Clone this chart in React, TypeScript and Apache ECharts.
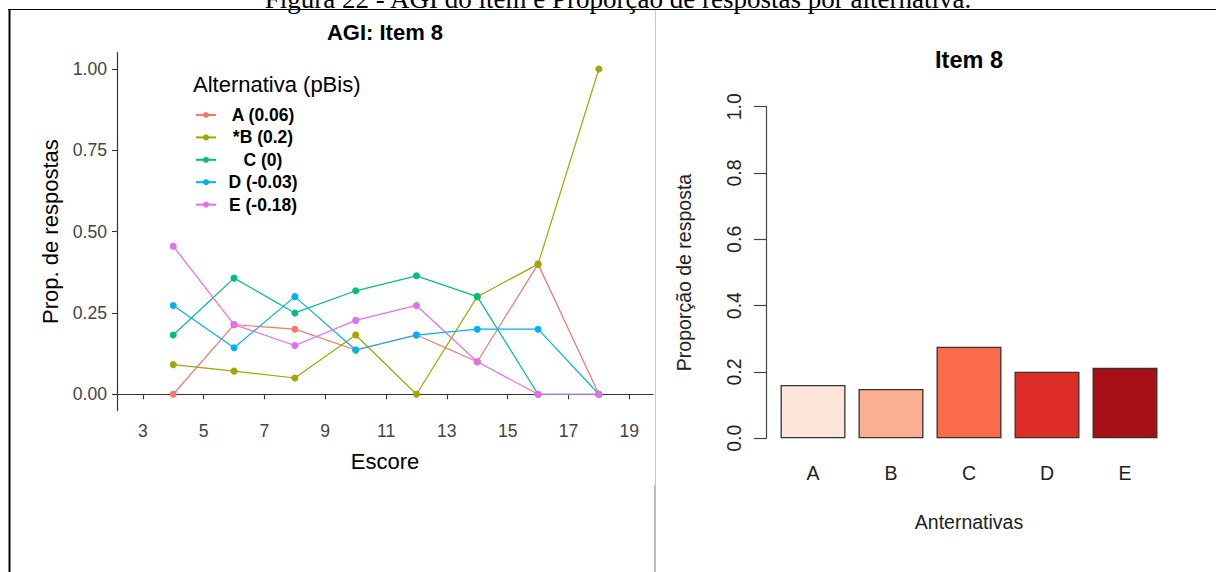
import React, { useEffect, useRef } from "react";
import * as echarts from "echarts";

// ---- Data ----
const scores = [4, 6, 8, 10, 12, 14, 16, 18];
const altNames = ["A (0.06)", "*B (0.2)", "C (0)", "D (-0.03)", "E (-0.18)"];
const altColors = ["#F8766D", "#A3A500", "#00BF7D", "#00B0F6", "#E76BF3"];
const propA = [0, 0.214, 0.2, 0.136, 0.182, 0.1, 0.4, 0];
const propB = [0.091, 0.071, 0.05, 0.182, 0, 0.3, 0.4, 1];
const propC = [0.182, 0.357, 0.25, 0.318, 0.364, 0.3, 0, 0];
const propD = [0.273, 0.143, 0.3, 0.136, 0.182, 0.2, 0.2, 0];
const propE = [0.455, 0.214, 0.15, 0.227, 0.273, 0.1, 0, 0];
const xTicks = [3, 5, 7, 9, 11, 13, 15, 17, 19];
const yTicks = [0, 0.25, 0.5, 0.75, 1];

const barCategories = ["A", "B", "C", "D", "E"];
const barValues = [0.161, 0.149, 0.276, 0.201, 0.213];
const barColors = ["#FEE5D9", "#FCAE91", "#FB6A4A", "#DE2D26", "#A50F15"];

const SANS = "'Liberation Sans', Arial, sans-serif";

export default function App() {
  const ref = useRef<HTMLDivElement>(null);
  useEffect(() => {
    if (!ref.current) return;
    const chart = echarts.init(ref.current, null, { renderer: "svg" });
    const lineData = [propA, propB, propC, propD, propE];
    const option: any = {
      animation: false,
      backgroundColor: "#ffffff",
      textStyle: { fontFamily: SANS },
      grid: [
        { left: 117, top: 52.7, width: 536, height: 357.8 },
        { left: 774, top: 106.7, width: 390, height: 331.6 },
      ],
      xAxis: [
        {
          gridIndex: 0,
          type: "value",
          min: 2.15,
          max: 19.78,
          splitLine: { show: false },
          axisLine: { show: true, lineStyle: { color: "#333", width: 1.2 } },
          axisTick: { show: true, length: 5, customValues: xTicks, lineStyle: { color: "#333", width: 1.1 } },
          axisLabel: {
            customValues: xTicks,
            margin: 11,
            fontSize: 17.6,
            color: "#444",
            fontFamily: SANS,
          },
          name: "Escore",
          nameLocation: "middle",
          nameGap: 40,
          nameTextStyle: { fontSize: 22, color: "#000", fontFamily: SANS },
        },
        {
          gridIndex: 1,
          type: "category",
          data: barCategories,
          axisLine: { show: false },
          axisTick: { show: false },
          axisLabel: { margin: 25, fontSize: 19.5, color: "#222", fontFamily: SANS },
          name: "Anternativas",
          nameLocation: "middle",
          nameGap: 74,
          nameTextStyle: { fontSize: 19.5, color: "#222", fontFamily: SANS },
        },
      ],
      yAxis: [
        {
          gridIndex: 0,
          type: "value",
          min: -0.05,
          max: 1.05,
          splitLine: { show: false },
          axisLine: { show: true, lineStyle: { color: "#333", width: 1.2 } },
          axisTick: { show: true, length: 5, customValues: yTicks, lineStyle: { color: "#333", width: 1.1 } },
          axisLabel: {
            customValues: yTicks,
            margin: 10,
            fontSize: 17.6,
            color: "#444",
            fontFamily: SANS,
            formatter: (v: number) => v.toFixed(2),
          },
          name: "Prop. de respostas",
          nameLocation: "middle",
          nameGap: 56,
          nameTextStyle: { fontSize: 22, color: "#000", fontFamily: SANS },
        },
        {
          gridIndex: 1,
          type: "value",
          min: 0,
          max: 1,
          interval: 0.2,
          offset: 8,
          splitLine: { show: false },
          axisLine: { show: true, lineStyle: { color: "#444", width: 1.2 } },
          axisTick: { show: true, length: 12, lineStyle: { color: "#444", width: 1.2 } },
          axisLabel: {
            rotate: 90,
            margin: 22,
            fontSize: 19.5,
            color: "#222",
            fontFamily: SANS,
            formatter: (v: number) => v.toFixed(1),
          },
          name: "Proporção de resposta",
          nameLocation: "middle",
          nameGap: 72,
          nameTextStyle: { fontSize: 19.5, color: "#222", fontFamily: SANS },
        },
      ],
      legend: {
        orient: "vertical",
        left: 190,
        top: 101,
        itemWidth: 20,
        itemHeight: 7.5,
        itemGap: 4.4,
        data: altNames,
        formatter: (name: string) => `{c|${name}}`,
        textStyle: {
          color: "#000",
          rich: {
            c: {
              width: 84,
              align: "center",
              fontWeight: "bold",
              fontSize: 17.5,
              lineHeight: 22,
              color: "#000",
              fontFamily: SANS,
            },
          },
        },
      },
      series: [
        ...altNames.map((name, i) => ({
          name,
          type: "line",
          xAxisIndex: 0,
          yAxisIndex: 0,
          data: scores.map((s, j) => [s, lineData[i][j]]),
          symbol: "circle",
          symbolSize: 7,
          showSymbol: true,
          lineStyle: { color: altColors[i], width: 1.2 },
          itemStyle: { color: altColors[i] },
        })),
        {
          name: "bars",
          type: "bar",
          xAxisIndex: 1,
          yAxisIndex: 1,
          barCategoryGap: "16.7%",
          data: barValues.map((v, i) => ({
            value: v,
            itemStyle: { color: barColors[i], borderColor: "#333", borderWidth: 1.3 },
          })),
        },
      ],
      graphic: [
        {
          type: "text",
          x: 618,
          y: 12,
          style: {
            text: "Figura 22 - AGI do item e Proporção de respostas por alternativa.",
            font: "27px 'Liberation Serif', 'Times New Roman', serif",
            fill: "#000",
            align: "center",
            verticalAlign: "bottom",
          },
        },
        { type: "line", shape: { x1: 8, y1: 9.5, x2: 1216, y2: 9.5 }, style: { stroke: "#000", lineWidth: 1.2 } },
        { type: "line", shape: { x1: 9.5, y1: 9, x2: 9.5, y2: 572 }, style: { stroke: "#000", lineWidth: 2 } },
        { type: "line", shape: { x1: 655.5, y1: 10, x2: 655.5, y2: 485 }, style: { stroke: "#c8c8c8", lineWidth: 1 } },
        { type: "line", shape: { x1: 655, y1: 485, x2: 655, y2: 572 }, style: { stroke: "#bdbdbd", lineWidth: 2 } },
        {
          type: "text",
          x: 385,
          y: 32,
          style: {
            text: "AGI: Item 8",
            font: `bold 22px ${SANS}`,
            fill: "#000",
            align: "center",
            verticalAlign: "middle",
          },
        },
        {
          type: "text",
          x: 193,
          y: 84,
          style: {
            text: "Alternativa (pBis)",
            font: `22px ${SANS}`,
            fill: "#000",
            align: "left",
            verticalAlign: "middle",
          },
        },
        {
          type: "text",
          x: 969,
          y: 60,
          style: {
            text: "Item 8",
            font: `bold 23.5px ${SANS}`,
            fill: "#000",
            align: "center",
            verticalAlign: "middle",
          },
        },
      ],
    };
    chart.setOption(option);
    return () => chart.dispose();
  }, []);
  return (
    <div
      ref={ref}
      style={{ position: "absolute", left: 0, top: 0, width: 1216, height: 572 }}
    />
  );
}
